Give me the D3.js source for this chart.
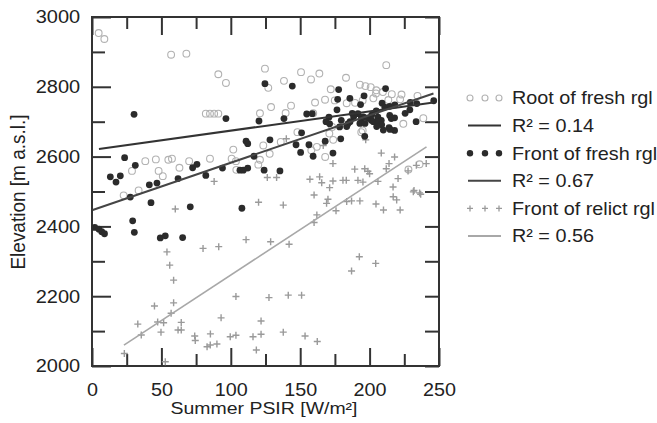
<!DOCTYPE html>
<html lang="en">
<head>
<meta charset="UTF-8">
<title>Elevation vs Summer PSIR</title>
<script src="https://d3js.org/d3.v7.min.js"></script>
<style>
  body {
    margin: 0;
    background: #fff;
  }
  svg text {
    font-family: Arial, "Liberation Sans", sans-serif;
    fill: #222;
  }
</style>
</head>
<body>
<div id="chart"></div>
<script>

// ------ data: [PSIR, elevation] ------

const rootFresh = [
  [4.8,2954],[8.9,2937],[57,2892],[68,2895],
  [82,2723],[85,2723],[88,2723],[91,2723],
  [91,2836],[96.5,2811],[124.6,2852],[127,2797],[138.3,2817],[150.6,2842],[157.8,2821],[163.8,2838],[183,2826],[212,2862],
  [172,2793],[193,2806],[197,2802],[200.8,2799],[204.8,2790],[209.6,2785],[204.6,2781],[216,2779],[223,2778],[234.5,2774],
  [174.9,2761],[183.5,2753],[189.5,2754],[195,2761],[202.7,2767],[213.5,2762],[222,2764],[160.7,2755],[167.9,2763],
  [129,2742],[143.4,2746],[121,2724],[139.5,2725],[159.4,2724],
  [238.7,2710],[224.3,2694],[236,2578],[228,2563],[194,2670],[171,2666],[173,2685],[148,2670],[195,2675],
  [38.4,2587],[46,2592],[55,2591],[57.6,2594],[70,2587],[85,2594],[28.8,2559],[48,2559],[51,2544],[63,2568],[33.6,2503],[22.8,2489],
  [101.8,2620],[123.4,2632],[100.6,2594],[103.7,2587],[121,2591],[119.8,2577],[128,2608],[104,2562],
  [158,2618],[162,2628],[168,2599],[136,2642],[173.8,2648]
];

const frontFresh = [
  [30.3,2721],[23.5,2597],[31.2,2575],[13.2,2542],[17.3,2527],[20.4,2545],[41.3,2519],[46.8,2524],[62,2537],
  [72.5,2568],[75.6,2578],[82,2546],[27.6,2484],
  [42.5,2468],[70.8,2456],[108,2452],[29.3,2416],[30.5,2383],[49.2,2367],[52.8,2373],[65.3,2368],
  [2,2397],[5,2392],[7,2385],[9,2379],
  [124.6,2809],[144.3,2802],[96.5,2709],[120.3,2702],[138.3,2709],[154.7,2722],[158.7,2723],
  [111,2644],[112.2,2637],[128.2,2648],[151,2668],[147,2634],[150.3,2612],[156.3,2634],[159.3,2601],[168,2644],
  [116.7,2601],[94,2567],[106.6,2561],[109,2561],[112.2,2567],[124,2561],[135.4,2559],
  [177.7,2792],[177,2764],[185.8,2767],[196,2774],[211.5,2795],[176.5,2734],[187.5,2724],[188.5,2714],
  [193.5,2749],[204.8,2731],[209,2753],[210.9,2742],[214.5,2744],[218.2,2748],[229.3,2755],[234,2752],
  [225.6,2724],[229,2734],[246.2,2760],[233.5,2700],
  [170.7,2713],[171.2,2694],[168.6,2700],[179.6,2704],[178.4,2685],[184.4,2694],[183.5,2686],[185.9,2700],
  [191.6,2723],[194,2709],[195.5,2714],[193,2695],[196.7,2695],[198.8,2711],[201.2,2704],[201.5,2719],
  [202.7,2700],[206,2713],[208.4,2704],[206.3,2700],[208.7,2691],[205.1,2686],[214.5,2718],[215.6,2709],
  [218,2711],[214,2683],[218,2675],[209.9,2676],[214.7,2678],
  [196.5,2658],[179.2,2651],[173.6,2610]
];

const frontRelict = [
  [60,2450],[120,2469],[111,2362],[54,2327],[56,2289],[58.8,2246],[80,2337],[91.3,2342],
  [45,2172],[58.8,2181],[57,2151],[33,2120],[35.5,2089],[47.3,2126],[51.6,2124],[49.7,2097],
  [62,2103],[64.3,2103],[64.3,2125],[103.7,2199],[93,2138],[74,2086],[74.4,2073],[85.3,2092],
  [82.9,2055],[85.2,2060],[90,2063],[99.6,2084],[103.7,2088],[116,2084],[121.8,2091],[118.4,2046],
  [121.8,2129],[23.3,2036],[52.8,2012],
  [137.8,2461],[160,2490],[170,2478],[169,2466],[162,2433],[160,2411],[175.8,2445],[183.5,2471],
  [187,2473],[193,2473],[204.6,2464],[210,2447],[217,2485],[219.5,2476],[222,2447],[231.5,2499],
  [236.8,2492],[128.7,2356],[142,2349],[187,2272],[192.6,2313],[204.4,2294],[127.5,2196],[141.4,2203],
  [151,2203],[137.8,2097],[153.5,2086],[162.3,2070],
  [88,2529],[140,2651],[126.3,2540],[133,2540],[157,2535],[164,2542],[165.5,2525],[166.6,2632],
  [208.4,2610],[218,2599],[173.6,2580],[189.3,2564],[196.5,2565],[198.8,2558],[200,2551],[212,2565],
  [214,2580],[227.7,2559],[233.7,2575],[240.8,2580],[173.6,2530],[180.8,2532],[183.2,2532],[191.6,2532],
  [195.2,2527],[206,2529],[220.5,2537],[216.9,2513],[232,2503],[236,2496],[171.2,2511],[197.2,2648]
];

// trend lines (endpoints)
const trendRoot = [[5, 2622], [246, 2755]];
const trendFresh = [[0.5, 2447], [246, 2781]];
const trendRelict = [[23, 2060], [241, 2628]];

const xMajor = [0, 50, 100, 150, 200, 250];
const xMinor = [25, 75, 125, 175, 225];
const yMajor = [2000, 2200, 2400, 2600, 2800, 3000];
const yMinor = [2100, 2300, 2500, 2700, 2900];

const legendLabels = ["Root of fresh rgl", "R² = 0.14", "Front of fresh rgl", "R² = 0.67", "Front of relict rgl", "R² = 0.56"];

// ------ chart ------

const W = 657, H = 423;
const plot = {left: 92, right: 439, top: 17, bottom: 366};

const x = d3.scaleLinear().domain([0, 250]).range([plot.left, plot.right]);
const y = d3.scaleLinear().domain([2000, 3000]).range([plot.bottom, plot.top]);

const colRoot = "#b2b2b2";
const colFresh = "#2b2b2b";
const colRelict = "#9a9a9a";
const colLineRoot = "#333";
const colLineFresh = "#454545";
const colLineRelict = "#a8a8a8";

// the source figure's lettering is a bit wider than plain Arial
const stretch = (sx) => `scale(${sx},1)`;

const svg = d3.select("#chart")
  .append("svg")
    .attr("width", W)
    .attr("height", H);

function styleAxis(g, size, sx) {
  g.select(".domain").remove();
  g.selectAll(".tick line").attr("stroke", "#333").attr("stroke-width", 2);
  g.selectAll(".tick text")
    .style("font-size", size + "px")
    .attr("fill", "#222")
    .attr("transform", stretch(sx));
}

// bottom
svg.append("g").attr("transform", `translate(0,${plot.bottom})`)
  .call(d3.axisBottom(x).tickValues(xMajor).tickSize(-18).tickPadding(17.5).tickFormat(d3.format("d")))
  .call(styleAxis, 17.5, 1.13);
svg.append("g").attr("transform", `translate(0,${plot.bottom})`)
  .call(d3.axisBottom(x).tickValues(xMinor).tickSize(-12).tickFormat(""))
  .call(styleAxis, 17.5, 1);
// top
svg.append("g").attr("transform", `translate(0,${plot.top})`)
  .call(d3.axisTop(x).tickValues(xMajor).tickSize(-18).tickFormat(""))
  .call(styleAxis, 17.5, 1);
svg.append("g").attr("transform", `translate(0,${plot.top})`)
  .call(d3.axisTop(x).tickValues(xMinor).tickSize(-12).tickFormat(""))
  .call(styleAxis, 17.5, 1);
// left
svg.append("g").attr("transform", `translate(${plot.left},0)`)
  .call(d3.axisLeft(y).tickValues(yMajor).tickSize(-19).tickPadding(11).tickFormat(d3.format("d")))
  .call(styleAxis, 18.5, 1.08);
svg.append("g").attr("transform", `translate(${plot.left},0)`)
  .call(d3.axisLeft(y).tickValues(yMinor).tickSize(-13).tickFormat(""))
  .call(styleAxis, 18.5, 1);
// right
svg.append("g").attr("transform", `translate(${plot.right},0)`)
  .call(d3.axisRight(y).tickValues(yMajor.concat(yMinor)).tickSize(-14).tickFormat(""))
  .call(styleAxis, 18.5, 1);

// frame
svg.append("rect")
  .attr("x", plot.left)
  .attr("y", plot.top)
  .attr("width", plot.right - plot.left)
  .attr("height", plot.bottom - plot.top)
  .attr("fill", "none")
  .attr("stroke", "#333")
  .attr("stroke-width", 2);

// axis titles
svg.append("text")
  .attr("transform", `translate(264,414) ${stretch(1.18)}`)
  .attr("text-anchor", "middle")
  .style("font-size", "16.5px")
  .text("Summer PSIR [W/m²]");

svg.append("text")
  .attr("transform", `translate(25,192) rotate(-90) scale(1,1.08)`)
  .attr("text-anchor", "middle")
  .style("font-size", "19px")
  .text("Elevation [m a.s.l.]");

// marks
const plotG = svg.append("g");
const crossPath = s => `M${-s},0H${s}M0,${-s}V${s}`;

plotG.selectAll("circle.root")
  .data(rootFresh)
  .join("circle")
    .attr("class", "root")
    .attr("cx", d => x(d[0]))
    .attr("cy", d => y(d[1]))
    .attr("r", 3.4)
    .attr("fill", "none")
    .attr("stroke", colRoot)
    .attr("stroke-width", 1.1);

plotG.selectAll("path.relict")
  .data(frontRelict)
  .join("path")
    .attr("class", "relict")
    .attr("transform", d => `translate(${x(d[0])},${y(d[1])})`)
    .attr("d", crossPath(3.5))
    .attr("stroke", colRelict)
    .attr("stroke-width", 1.4);

plotG.selectAll("circle.fresh")
  .data(frontFresh)
  .join("circle")
    .attr("class", "fresh")
    .attr("cx", d => x(d[0]))
    .attr("cy", d => y(d[1]))
    .attr("r", 3.4)
    .attr("fill", colFresh);

const line = d3.line().x(d => x(d[0])).y(d => y(d[1]));

[[trendRoot, colLineRoot, 2], [trendFresh, colLineFresh, 2], [trendRelict, colLineRelict, 1.6]]
  .forEach(([pts, col, w]) => {
    plotG.append("path")
      .attr("d", line(pts))
      .attr("fill", "none")
      .attr("stroke", col)
      .attr("stroke-width", w);
  });

// legend
const legY0 = 98, legStep = 27.6;
const legSymX = [470, 485, 499];
const leg = svg.append("g");

legendLabels.forEach((label, i) => {
  const ly = legY0 + i * legStep;
  const g = leg.append("g");
  if (i === 0) {
    g.selectAll("circle").data(legSymX).join("circle")
      .attr("cx", d => d).attr("cy", ly).attr("r", 3)
      .attr("fill", "none").attr("stroke", colRoot).attr("stroke-width", 1.1);
  } else if (i === 2) {
    g.selectAll("circle").data(legSymX).join("circle")
      .attr("cx", d => d).attr("cy", ly).attr("r", 3.2)
      .attr("fill", colFresh);
  } else if (i === 4) {
    g.selectAll("path").data(legSymX).join("path")
      .attr("transform", d => `translate(${d},${ly})`)
      .attr("d", crossPath(3))
      .attr("stroke", colRelict).attr("stroke-width", 1.3);
  } else {
    const col = i === 1 ? colLineRoot : i === 3 ? colLineFresh : colLineRelict;
    g.append("line")
      .attr("x1", 468).attr("x2", 501)
      .attr("y1", ly).attr("y2", ly)
      .attr("stroke", col).attr("stroke-width", 2);
  }
  g.append("text")
    .attr("transform", `translate(512,${ly}) ${stretch(1.1)}`)
    .attr("dy", "0.36em")
    .style("font-size", "18px")
    .text(label);
});

</script>
</body>
</html>
